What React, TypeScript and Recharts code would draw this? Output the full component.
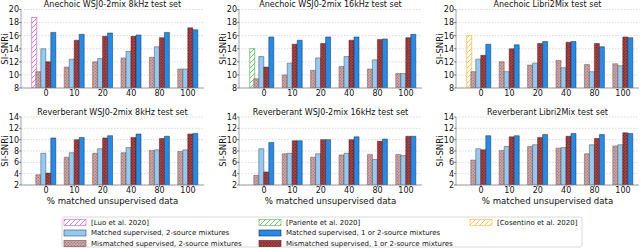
import React from 'react';
import { BarChart, Bar, XAxis, YAxis, CartesianGrid } from 'recharts';

const categories = ['0', '10', '20', '40', '80', '100'];

// Anechoic WSJ0-2mix 8kHz
const a8Ref = 18.8;
const a8MisTwo = [10.5, 11.2, 12.0, 12.6, 12.7, 10.9];
const a8MatTwo = [14.0, 12.4, 12.5, 13.6, 14.3, 10.9];
const a8MisAny = [12.0, 15.3, 15.9, 15.9, 15.7, 17.2];
const a8MatAny = [16.5, 16.2, 16.4, 16.1, 16.5, 16.9];

// Anechoic WSJ0-2mix 16kHz
const a16Ref = 14.0;
const a16MisTwo = [9.4, 10.0, 10.7, 11.3, 10.9, 10.2];
const a16MatTwo = [12.8, 11.8, 12.6, 12.8, 12.3, 10.2];
const a16MisAny = [11.2, 14.7, 14.8, 15.3, 15.4, 15.7];
const a16MatAny = [15.8, 15.3, 15.8, 15.8, 15.5, 16.2];

// Anechoic Libri2Mix
const aLRef = 16.0;
const aLMisTwo = [10.5, 12.0, 11.5, 12.2, 11.6, 11.7];
const aLMatTwo = [12.4, 10.5, 11.8, 11.1, 10.5, 11.4];
const aLMisAny = [13.0, 14.0, 14.8, 15.0, 14.8, 15.8];
const aLMatAny = [14.7, 14.6, 15.1, 15.1, 14.3, 15.7];

// Reverberant WSJ0-2mix 8kHz
const r8MisTwo = [3.8, 6.9, 7.6, 7.7, 8.1, 7.9];
const r8MatTwo = [7.6, 7.7, 8.4, 8.6, 8.2, 8.2];
const r8MisAny = [4.1, 10.0, 10.3, 10.4, 10.2, 11.0];
const r8MatAny = [10.3, 10.4, 10.7, 11.0, 10.6, 11.1];

// Reverberant WSJ0-2mix 16kHz
const r16MisTwo = [3.7, 7.5, 6.9, 7.3, 7.4, 7.4];
const r16MatTwo = [8.4, 7.6, 7.5, 7.6, 6.5, 7.2];
const r16MisAny = [4.3, 9.8, 10.0, 10.0, 9.7, 10.6];
const r16MatAny = [9.5, 9.8, 10.0, 10.5, 10.1, 10.6];

// Reverberant Libri2Mix
const rLMisTwo = [6.4, 8.1, 8.8, 8.5, 7.5, 8.9];
const rLMatTwo = [8.4, 8.8, 9.1, 8.6, 9.1, 9.1];
const rLMisAny = [8.2, 10.5, 10.4, 10.6, 10.2, 11.2];
const rLMatAny = [10.7, 10.7, 10.9, 11.1, 10.9, 11.1];

const anechoicTicks = [8, 10, 12, 14, 16, 18, 20];
const reverbTicks = [2, 4, 6, 8, 10, 12, 14];

const FONT = '"DejaVu Sans", sans-serif';
const BOX = '#8a8a8a';
const TXT = '#111';

const build = (mis2: number[], mat2: number[], misA: number[], matA: number[], refV?: number) =>
  categories.map((c, i) => ({
    cat: c,
    mis2: mis2[i],
    mat2: mat2[i],
    misA: misA[i],
    matA: matA[i],
    prior: i === 0 && refV !== undefined ? refV : undefined,
  }));

type Panel = {
  title: string;
  data: any[];
  ticks: number[];
  left: number;
  top: number;
  row: number;
  refFill?: string;
  refStroke?: string;
};

const panels: Panel[] = [
  { title: 'Anechoic WSJ0-2mix 8kHz test set', data: build(a8MisTwo, a8MatTwo, a8MisAny, a8MatAny, a8Ref), ticks: anechoicTicks, left: 0, top: 0, row: 0, refFill: 'url(#hatchPurple)', refStroke: '#cc5fcc' },
  { title: 'Anechoic WSJ0-2mix 16kHz test set', data: build(a16MisTwo, a16MatTwo, a16MisAny, a16MatAny, a16Ref), ticks: anechoicTicks, left: 218, top: 0, row: 0, refFill: 'url(#hatchGreen)', refStroke: '#4fb84f' },
  { title: 'Anechoic Libri2Mix test set', data: build(aLMisTwo, aLMatTwo, aLMisAny, aLMatAny, aLRef), ticks: anechoicTicks, left: 435, top: 0, row: 0, refFill: 'url(#hatchOrange)', refStroke: '#ffb833' },
  { title: 'Reverberant WSJ0-2mix 8kHz test set', data: build(r8MisTwo, r8MatTwo, r8MisAny, r8MatAny), ticks: reverbTicks, left: 0, top: 100, row: 1 },
  { title: 'Reverberant WSJ0-2mix 16kHz test set', data: build(r16MisTwo, r16MatTwo, r16MisAny, r16MatAny), ticks: reverbTicks, left: 218, top: 100, row: 1 },
  { title: 'Reverberant Libri2Mix test set', data: build(rLMisTwo, rLMatTwo, rLMisAny, rLMatAny), ticks: reverbTicks, left: 435, top: 100, row: 1 },
];

const PAD = { left: 10.8, right: 1.8 };

const PriorShape = (fill: string, stroke: string) => (p: any) => {
  if (p == null || p.value == null || !p.height) return <g />;
  return (
    <rect
      x={p.x - 2.4 * p.width}
      y={p.y}
      width={p.width}
      height={p.height}
      fill={fill}
      stroke={stroke}
      strokeWidth={0.7}
    />
  );
};

const ChartPanel = ({ panel }: { panel: Panel }) => {
  const isTop = panel.row === 0;
  const height = isTop ? 100 : 107;
  const marginTop = isTop ? 9.5 : 17;
  const xHeight = isTop ? 12 : 22;
  const domain = [panel.ticks[0], panel.ticks[panel.ticks.length - 1]];
  return (
    <div style={{ position: 'absolute', left: panel.left, top: panel.top }}>
      <BarChart
        width={205}
        height={height}
        data={panel.data}
        margin={{ top: marginTop, right: 1, bottom: 0, left: 0 }}
        barSize={5}
        barGap={0}
      >
        <CartesianGrid vertical={false} stroke="#c8c8c8" strokeDasharray="1.5 1.5" strokeWidth={0.7} />
        <XAxis
          dataKey="cat"
          padding={PAD}
          height={xHeight}
          interval={0}
          tickSize={2}
          tickMargin={0.5}
          axisLine={{ stroke: BOX, strokeWidth: 0.8 }}
          tickLine={{ stroke: '#333', strokeWidth: 0.6 }}
          tick={{ fontSize: 8, fill: TXT }}
        />
        <XAxis xAxisId="prior" dataKey="cat" padding={PAD} hide />
        <XAxis
          xAxisId="top"
          orientation="top"
          dataKey="cat"
          height={0}
          tick={false}
          tickLine={false}
          axisLine={{ stroke: BOX, strokeWidth: 0.8 }}
        />
        <YAxis
          domain={domain}
          ticks={panel.ticks}
          allowDataOverflow
          interval={0}
          width={21}
          tickSize={2}
          tickMargin={0}
          axisLine={{ stroke: BOX, strokeWidth: 0.8 }}
          tickLine={{ stroke: '#333', strokeWidth: 0.6 }}
          tick={{ fontSize: 8, fill: TXT }}
        />
        <YAxis
          yAxisId="right"
          orientation="right"
          domain={domain}
          width={0}
          tick={false}
          tickLine={false}
          axisLine={{ stroke: BOX, strokeWidth: 0.8 }}
        />
        {panel.refFill ? (
          <Bar
            dataKey="prior"
            xAxisId="prior"
            isAnimationActive={false}
            shape={PriorShape(panel.refFill, panel.refStroke as string)}
          />
        ) : null}
        <Bar dataKey="mis2" fill="url(#dotPink)" stroke="#6a5050" strokeWidth={0.5} isAnimationActive={false} />
        <Bar dataKey="mat2" fill="#8ecbf7" stroke="#4a4a4a" strokeWidth={0.5} isAnimationActive={false} />
        <Bar dataKey="misA" fill="url(#dotRed)" stroke="#4a2020" strokeWidth={0.5} isAnimationActive={false} />
        <Bar dataKey="matA" fill="#1f8cf0" stroke="#2a2a2a" strokeWidth={0.5} isAnimationActive={false} />
      </BarChart>
    </div>
  );
};

const Defs = () => (
  <svg width={0} height={0} style={{ position: 'absolute' }}>
    <defs>
      <pattern id="dotPink" width={3} height={3} patternUnits="userSpaceOnUse">
        <rect width={3} height={3} fill="#d2a6a6" />
        <circle cx={0.75} cy={0.75} r={0.55} fill="#8d5b5b" />
        <circle cx={2.25} cy={2.25} r={0.55} fill="#8d5b5b" />
      </pattern>
      <pattern id="dotRed" width={3} height={3} patternUnits="userSpaceOnUse">
        <rect width={3} height={3} fill="#b3403f" />
        <circle cx={0.75} cy={0.75} r={0.55} fill="#4e1414" />
        <circle cx={2.25} cy={2.25} r={0.55} fill="#4e1414" />
      </pattern>
      {[
        ['hatchPurple', '#cc5fcc'],
        ['hatchGreen', '#4fb84f'],
        ['hatchOrange', '#ffb833'],
      ].map(([id, c]) => (
        <pattern key={id} id={id} width={5} height={5} patternUnits="userSpaceOnUse">
          <rect width={5} height={5} fill="#fff" />
          <path d="M-1,1 L1,-1 M0,5 L5,0 M4,6 L6,4" stroke={c} strokeWidth={0.8} />
        </pattern>
      ))}
    </defs>
  </svg>
);

const plotLefts = [21, 239, 456];
const plotCenters = plotLefts.map((l) => l + 91.5);

const legendItems = [
  { label: '[Luo et al. 2020]', fill: 'url(#hatchPurple)', stroke: '#cc5fcc', col: 0, row: 0 },
  { label: 'Matched supervised, 2-source mixtures', fill: '#8ecbf7', stroke: '#4a4a4a', col: 0, row: 1 },
  { label: 'Mismatched supervised, 2-source mixtures', fill: 'url(#dotPink)', stroke: '#6a5050', col: 0, row: 2 },
  { label: '[Pariente et al. 2020]', fill: 'url(#hatchGreen)', stroke: '#4fb84f', col: 1, row: 0 },
  { label: 'Matched supervised, 1 or 2-source mixtures', fill: '#1f8cf0', stroke: '#2a2a2a', col: 1, row: 1 },
  { label: 'Mismatched supervised, 1 or 2-source mixtures', fill: 'url(#dotRed)', stroke: '#4a2020', col: 1, row: 2 },
  { label: '[Cosentino et al. 2020]', fill: 'url(#hatchOrange)', stroke: '#ffb833', col: 2, row: 0 },
];
const legendColX = [64, 259, 470];
const legendRowY = [222.5, 233, 243.5];

const Overlay = () => (
  <svg
    width={640}
    height={248}
    style={{ position: 'absolute', left: 0, top: 0, pointerEvents: 'none', fontFamily: FONT }}
  >
    {panels.map((p, i) => (
      <text
        key={'t' + i}
        x={plotCenters[i % 3]}
        y={p.row === 0 ? 7.3 : 114.5}
        textAnchor="middle"
        fontSize={8}
        fill={TXT}
      >
        {p.title}
      </text>
    ))}
    {panels.map((p, i) => {
      const bx = plotLefts[i % 3] - 13.5;
      const cy = p.row === 0 ? 49 : 151;
      return (
        <text
          key={'y' + i}
          x={bx}
          y={cy}
          transform={`rotate(-90 ${bx} ${cy})`}
          textAnchor="middle"
          fontSize={8.6}
          fill={TXT}
        >
          SI-SNRi
        </text>
      );
    })}
    {plotCenters.map((c, i) => (
      <text key={'x' + i} x={c} y={203.5} textAnchor="middle" fontSize={8.6} fill={TXT}>
        % matched unsupervised data
      </text>
    ))}
    <rect x={62} y={217} width={520} height={30} rx={2} fill="#fff" stroke="#d0d0d0" strokeWidth={0.8} />
    {legendItems.map((it) => (
      <g key={it.label}>
        <rect
          x={legendColX[it.col]}
          y={legendRowY[it.row] - 3}
          width={22}
          height={6}
          fill={it.fill}
          stroke={it.stroke}
          strokeWidth={0.6}
        />
        <text
          x={legendColX[it.col] + 27}
          y={legendRowY[it.row]}
          dominantBaseline="central"
          fontSize={7}
          fill={TXT}
        >
          {it.label}
        </text>
      </g>
    ))}
  </svg>
);

export default function App() {
  return (
    <div
      style={{
        position: 'absolute',
        left: 0,
        top: 0,
        width: 640,
        height: 248,
        overflow: 'hidden',
        background: '#fff',
        fontFamily: FONT,
      }}
    >
      <Defs />
      {panels.map((p, i) => (
        <ChartPanel key={i} panel={p} />
      ))}
      <Overlay />
    </div>
  );
}
